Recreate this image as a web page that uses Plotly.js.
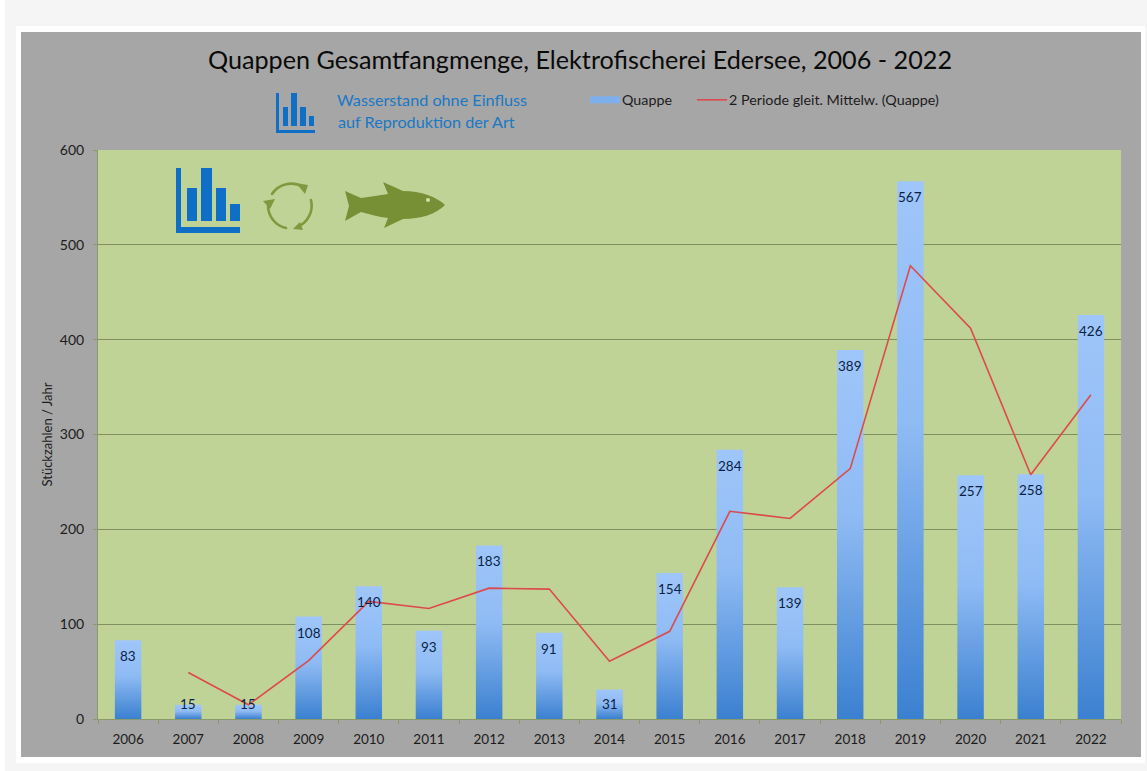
<!DOCTYPE html>
<html lang="de">
<head>
<meta charset="utf-8">
<title>Quappen Gesamtfangmenge</title>
<script src="https://cdn.plot.ly/plotly-3.0.1.min.js"></script>
<style>
  html, body { margin: 0; padding: 0; width: 1147px; height: 771px; overflow: hidden; background: #f5f5f5; }
  #strip { position: absolute; left: 0; top: 0; width: 5px; height: 771px; background: #ffffff; }
  #frame { position: absolute; left: 16px; top: 26px; width: 1129px; height: 737px; background: #ffffff; }
  #chart { position: absolute; left: 21px; top: 32px; width: 1120px; height: 725px; }
  #icons { position: absolute; left: 0; top: 0; pointer-events: none; }
</style>
</head>
<body>
<div id="strip"></div>
<div id="frame"></div>
<div id="chart"></div>
<svg id="icons" width="1147" height="771" viewBox="0 0 1147 771">
  <!-- small bar-chart symbol beside the note -->
  <g fill="#0f6fc6">
    <rect x="276" y="93" width="3" height="40"/><rect x="276" y="130" width="39" height="3"/>
    <rect x="283" y="107" width="5" height="19"/><rect x="291" y="93" width="6" height="33"/>
    <rect x="300" y="107" width="6" height="19"/><rect x="309" y="116" width="5" height="10"/>
  </g>
  <!-- large bar-chart symbol -->
  <g fill="#0f6fc6">
    <rect x="176" y="168" width="5" height="65"/><rect x="176" y="227" width="64" height="6"/>
    <rect x="187" y="188" width="10" height="33"/><rect x="201" y="168" width="11" height="53"/>
    <rect x="216" y="188" width="10" height="33"/><rect x="230" y="204" width="10" height="17"/>
  </g>
  <!-- recycling arrows -->
  <g fill="none" stroke="#7f9a3e" stroke-width="2.6" stroke-linecap="round">
    <path d="M272,194 A23,23 0 0 1 303,187"/>
    <path d="M311,200 A23,23 0 0 1 297,227"/>
    <path d="M286,228 A23,23 0 0 1 268,205"/>
  </g>
  <g fill="#7f9a3e">
    <path d="M296,183 L308,185 L305,194 Z"/>
    <path d="M300,222 L293,229 L303,230 Z"/>
    <path d="M263,201 L275,199 L270,209 Z"/>
  </g>
  <!-- fish silhouette -->
  <path fill="#789035" d="M345,191 L361,198 C371,197 379,195 388,194 L383,182 L403,191
    C421,191 437,197 445,205 C436,214 421,219 403,219 L384,228 L388,218
    C378,217 370,214 361,212 L345,221 L349,206 Z"/>
  <circle cx="428" cy="200" r="2" fill="#d4dfae"/>
</svg>
<script>
// Annual burbot catch from electrofishing in the Edersee
const years = ["2006","2007","2008","2009","2010","2011","2012","2013","2014","2015","2016","2017","2018","2019","2020","2021","2022"];
const catchCounts = [83,15,15,108,140,93,183,91,31,154,284,139,389,567,257,258,426];
const movingAverage = [null,49,15,61.5,124,116.5,138,137,61,92.5,219,211.5,264,478,412,257.5,342];
const yTicks = [0,100,200,300,400,500,600];

const chartFont = "Lato, 'Noto Sans', sans-serif";

// Chart frame, in page pixels
const plot = { left: 98, right: 1121, top: 150, bottom: 719 };
const panel = { left: 21, right: 1141, top: 32, bottom: 757 };
const paperX = x => (x - plot.left) / (plot.right - plot.left);
const paperY = y => (plot.bottom - y) / (plot.bottom - plot.top);

const traces = [
  { type: "bar", name: "Quappe", x: years, y: catchCounts, width: 0.44,
    marker: { color: "#7fb0ee", line: { width: 0 } }, hoverinfo: "x+y" },
  { type: "scatter", mode: "lines", name: "2 Periode gleit. Mittelw. (Quappe)", x: years, y: movingAverage,
    line: { color: "#dc4a4c", width: 1.6 }, hoverinfo: "x+y" }
];

// Value labels sit just under the bar top; the shortest bars keep theirs clear of the axis
const valueLabels = years.map((year, i) => ({
  x: i, y: Math.max(catchCounts[i], 33), xref: "x", yref: "y", yshift: -16,
  xanchor: "center", yanchor: "middle",
  text: String(catchCounts[i]), showarrow: false,
  font: { family: chartFont, size: 13.5, color: "#0a1f45" }
}));

const noteLines = [
  { text: "Wasserstand ohne Einfluss", x: 432, y: 100 },
  { text: "auf Reproduktion der Art", x: 426, y: 121 }
].map(line => ({
  x: paperX(line.x), y: paperY(line.y), xref: "paper", yref: "paper",
  xanchor: "center", yanchor: "middle",
  text: line.text, showarrow: false,
  font: { family: chartFont, size: 16.2, color: "#1b78c4" }
}));

const layout = {
  width: panel.right - panel.left,
  height: panel.bottom - panel.top,
  margin: { l: plot.left - panel.left, r: panel.right - plot.right, t: plot.top - panel.top, b: panel.bottom - plot.bottom, pad: 0 },
  paper_bgcolor: "#a6a6a6",
  plot_bgcolor: "#c0d397",
  font: { family: chartFont, color: "#1c1c1c" },
  title: { text: "Quappen Gesamtfangmenge, Elektrofischerei Edersee, 2006 - 2022",
           font: { family: chartFont, size: 25.2, color: "#0a0a0a" },
           x: (580 - panel.left) / (panel.right - panel.left), xanchor: "center",
           y: 1 - (60 - panel.top) / (panel.bottom - panel.top), yanchor: "middle" },
  xaxis: { type: "category", range: [-0.5, 16.5], tickson: "boundaries", ticks: "outside", ticklen: 4, tickcolor: "#8b9a6b",
           showgrid: false, showline: true, linecolor: "#8b9a6b", linewidth: 1, tickangle: 0, ticklabelstandoff: 8,
           tickfont: { family: chartFont, size: 13.5, color: "#1c1c1c" }, fixedrange: true },
  yaxis: { range: [0, 600], tickvals: yTicks, ticks: "outside", ticklen: 4, tickcolor: "#8b9a6b", ticklabelstandoff: 6,
           gridcolor: "#7e9060", gridwidth: 1.3, showline: true, linecolor: "#8b9a6b", zeroline: false,
           tickfont: { family: chartFont, size: 14, color: "#1c1c1c" },
           title: { text: "Stückzahlen / Jahr", font: { family: chartFont, size: 13, color: "#1c1c1c" }, standoff: 4 },
           fixedrange: true },
  legend: { orientation: "h", x: paperX(585), y: paperY(84), xanchor: "left", yanchor: "top",
            bgcolor: "rgba(0,0,0,0)", itemwidth: 30,
            font: { family: chartFont, size: 14.3, color: "#1c1c1c" },
            traceorder: "normal", itemclick: false, itemdoubleclick: false },
  annotations: valueLabels.concat(noteLines),
  bargap: 0.56
};

// Vertical gradient for the columns, light at the top and saturated at the base
function applyBarGradient(gd) {
  const svg = gd.querySelector("svg.main-svg");
  const ns = "http://www.w3.org/2000/svg";
  const defs = svg.querySelector("defs");
  const grad = document.createElementNS(ns, "linearGradient");
  grad.setAttribute("id", "columnFill");
  grad.setAttribute("x1", "0"); grad.setAttribute("y1", "0");
  grad.setAttribute("x2", "0"); grad.setAttribute("y2", "1");
  [["0", "#9fc6fa"], ["0.45", "#8fbbf4"], ["1", "#3b80d0"]].forEach(([offset, color]) => {
    const stop = document.createElementNS(ns, "stop");
    stop.setAttribute("offset", offset);
    stop.setAttribute("stop-color", color);
    grad.appendChild(stop);
  });
  defs.appendChild(grad);
  gd.querySelectorAll(".barlayer .point path").forEach(p => { p.style.fill = "url(#columnFill)"; });
}

// Legend spacing: a flat wide key for the columns, and the line entry set further right
function tuneLegend(gd) {
  const key = gd.querySelector(".legend .traces .legendpoints path");
  if (key) key.setAttribute("d", "M-15,-3.5H15V3.5H-15Z");
  gd.querySelectorAll(".legend .legendtext").forEach(t => {
    t.setAttribute("x", Number(t.getAttribute("x")) - 3);
  });
  const scrollbox = gd.querySelector(".legend .scrollbox");
  if (scrollbox) scrollbox.removeAttribute("clip-path");
  const lineEntry = gd.querySelectorAll(".legend .traces")[1];
  const swatchLeft = lineEntry.querySelector(".legendlines path").getBoundingClientRect().left;
  const match = /translate\(([-\d.]+)[ ,]+([-\d.]+)\)/.exec(lineEntry.getAttribute("transform"));
  if (match) lineEntry.setAttribute("transform", `translate(${Number(match[1]) + 697 - swatchLeft},${match[2]})`);
}

Plotly.newPlot("chart", traces, layout, { displayModeBar: false, responsive: false }).then(gd => {
  applyBarGradient(gd);
  tuneLegend(gd);
});
</script>
</body>
</html>
